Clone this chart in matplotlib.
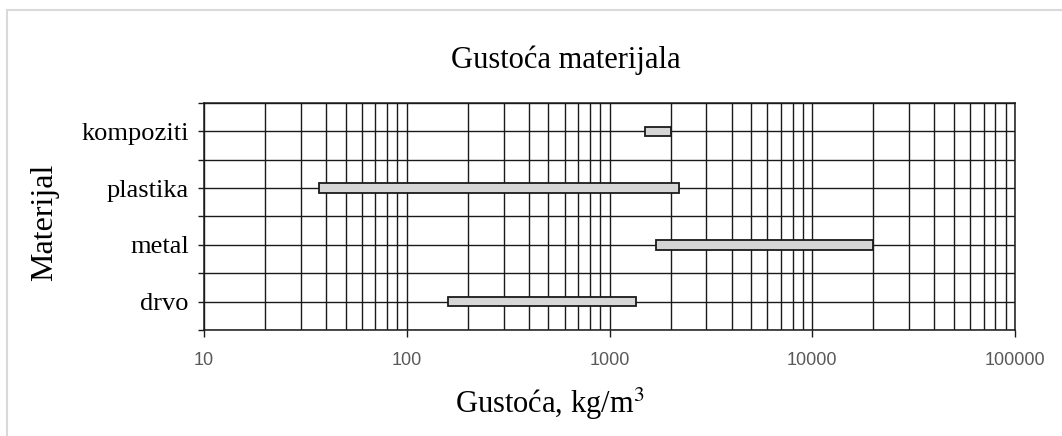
import matplotlib.pyplot as plt
from matplotlib.patches import Rectangle
from matplotlib.ticker import LogLocator, NullFormatter

# data
materials = ['drvo', 'metal', 'plastika', 'kompoziti']
dens_min = [160, 1700, 37, 1500]
dens_max = [1350, 20000, 2200, 2000]
xtick_vals = [10, 100, 1000, 10000, 100000]
xtick_labels = ['10', '100', '1000', '10000', '100000']

serif = 'Liberation Serif'

fig = plt.figure(figsize=(10.62, 4.36), dpi=100)
ax = fig.add_axes([0.1921, 0.2431, 0.7637, 0.5207])

# outer chart border (cropped on right/bottom like the reference)
W, H = 1062, 436
fig.patches.append(Rectangle((7 / W, -0.05), 1.1, (H - 10) / H + 0.05,
                             transform=fig.transFigure, fill=False,
                             edgecolor='#d9d9d9', lw=1.5, zorder=0))

ypos = [i + 0.5 for i in range(len(materials))]
widths = [b - a for a, b in zip(dens_min, dens_max)]
ax.barh(ypos, widths, left=dens_min, height=0.17, color='#d6d6d6',
        edgecolor='#1a1a1a', linewidth=1.3, zorder=3)

ax.set_xscale('log')
ax.set_xlim(10, 100000)
ax.set_ylim(0, 4)

ax.set_xticks(xtick_vals)
ax.set_xticklabels(xtick_labels, fontsize=13, color='#595959',
                   family='Liberation Sans')
ax.xaxis.set_minor_locator(LogLocator(base=10, subs=range(2, 10), numticks=20))
ax.xaxis.set_minor_formatter(NullFormatter())
ax.tick_params(axis='x', which='major', length=5, width=1, color='#1a1a1a',
               pad=11, direction='out')
ax.tick_params(axis='x', which='minor', length=0)

ax.set_yticks([i * 0.5 for i in range(9)])
ax.set_yticklabels(['' if i % 2 == 0 else materials[i // 2] for i in range(9)],
                   fontsize=19, family=serif, color='black')
ax.tick_params(axis='y', length=4, width=1, color='#1a1a1a', pad=7)

ax.grid(True, which='both', axis='x', color='#1a1a1a', lw=1.0, zorder=1)
ax.grid(True, which='major', axis='y', color='#1a1a1a', lw=1.0, zorder=1)
ax.set_axisbelow(True)
for s in ax.spines.values():
    s.set_color('#1a1a1a')
    s.set_linewidth(1.1)

fig.text(566 / W, 1 - 60 / H, 'Gustoća materijala', ha='center', va='center',
         fontsize=22, family=serif)
fig.text(550 / W, 1 - 404 / H, 'Gustoća, kg/m$^3$', ha='center', va='center',
         fontsize=22, family=serif, math_fontfamily='stix')
fig.text(45 / W, 1 - 222 / H, 'Materijal', ha='center', va='center',
         rotation=90, fontsize=23, family=serif)

fig.savefig('out.png', dpi=100)
